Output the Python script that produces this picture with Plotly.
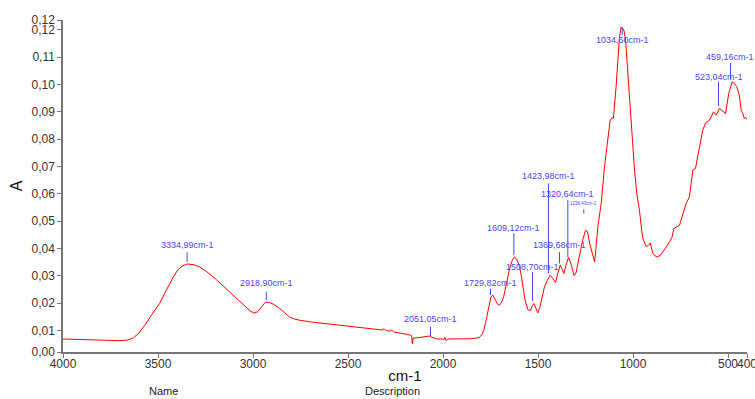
import plotly.graph_objects as go

# ---- spectrum data (wavenumber cm-1, absorbance A) ----
wavenumber = [4000, 3950, 3900, 3850, 3800, 3750, 3700, 3660, 3630, 3600, 3570, 3530, 3492, 3455, 3422,
              3395, 3370, 3345, 3310, 3280, 3250, 3200, 3150, 3100, 3050, 3015, 2995, 2975, 2955, 2935,
              2915, 2890, 2860, 2830, 2808, 2780, 2755, 2700, 2650, 2600, 2550, 2500, 2450, 2400, 2350,
              2320, 2310, 2300, 2280, 2270, 2260, 2230, 2200, 2175, 2165, 2161, 2157, 2140, 2110, 2085,
              2071, 2060, 2045, 2030, 2010, 1995, 1990, 1983, 1975, 1950, 1920, 1890, 1860, 1830, 1808,
              1795, 1785, 1773, 1760, 1748, 1738, 1725, 1712, 1703, 1692, 1680, 1665, 1650, 1635, 1624,
              1610, 1597, 1588, 1580, 1568, 1554, 1540, 1530, 1522, 1512, 1501, 1490, 1478, 1466, 1450,
              1436, 1422, 1408, 1395, 1383, 1372, 1364, 1350, 1339, 1325, 1310, 1300, 1285, 1265, 1250,
              1240, 1228, 1212, 1202, 1195, 1185, 1167, 1150, 1133, 1120, 1110, 1103, 1089, 1080, 1071,
              1062, 1048, 1039, 1028, 1018, 1005, 992, 980, 966, 955, 948, 930, 918, 909, 896,
              883, 870, 856, 843, 825, 808, 795, 785, 770, 755, 738, 720, 703, 690, 685,
              671, 660, 650, 633, 618, 597, 576, 562, 545, 531, 513, 496, 478, 466, 454,
              440, 431, 422, 414, 407, 400]
absorbance = [0.0068, 0.0067, 0.0066, 0.0064, 0.0062, 0.0061, 0.0062, 0.0064, 0.0072, 0.0090, 0.0118, 0.0160, 0.0198, 0.0248, 0.0292,
              0.0322, 0.0336, 0.0343, 0.0340, 0.0332, 0.0318, 0.0290, 0.0258, 0.0226, 0.0193, 0.0171, 0.0163, 0.0168, 0.0186, 0.0203,
              0.0202, 0.0195, 0.0180, 0.0160, 0.0149, 0.0141, 0.0137, 0.0131, 0.0127, 0.0123, 0.0119, 0.0116, 0.0113, 0.0108, 0.0103,
              0.0101, 0.0106, 0.0099, 0.0097, 0.0101, 0.0094, 0.0091, 0.0087, 0.0083, 0.0080, 0.0050, 0.0072, 0.0072, 0.0075, 0.0079,
              0.0079, 0.0075, 0.0070, 0.0068, 0.0069, 0.0066, 0.0074, 0.0062, 0.0068, 0.0068, 0.0067, 0.0067, 0.0069, 0.0071, 0.0074,
              0.0085, 0.0100, 0.0137, 0.0185, 0.0222, 0.0229, 0.0212, 0.0195, 0.0192, 0.0202, 0.0225, 0.0280, 0.0325, 0.0357, 0.0369,
              0.0358, 0.0332, 0.0300, 0.0259, 0.0210, 0.0176, 0.0172, 0.0190, 0.0198, 0.0182, 0.0164, 0.0185, 0.0225, 0.0259, 0.0285,
              0.0302, 0.0290, 0.0275, 0.0310, 0.0339, 0.0322, 0.0308, 0.0345, 0.0367, 0.0340, 0.0300, 0.0310, 0.0360, 0.0430, 0.0466,
              0.0462, 0.0418, 0.0370, 0.0351, 0.0400, 0.0479, 0.0567, 0.0699, 0.0797, 0.0870, 0.0878, 0.0876, 0.0992, 0.1080, 0.1175,
              0.1212, 0.1200, 0.1163, 0.1050, 0.0931, 0.0810, 0.0687, 0.0600, 0.0540, 0.0470, 0.0436, 0.0406, 0.0412, 0.0420, 0.0382,
              0.0372, 0.0369, 0.0375, 0.0387, 0.0405, 0.0424, 0.0440, 0.0473, 0.0480, 0.0485, 0.0525, 0.0565, 0.0589, 0.0660, 0.0687,
              0.0693, 0.0730, 0.0772, 0.0833, 0.0860, 0.0870, 0.0900, 0.0888, 0.0913, 0.0906, 0.0894, 0.0968, 0.1010, 0.1004, 0.0992,
              0.0961, 0.0906, 0.0894, 0.0876, 0.0880, 0.0872]

# ---- peak labels (text, marker wavenumber, marker bottom A, marker top A, text A) ----
peak_labels = ["3334,99cm-1", "2918,90cm-1", "2051,05cm-1", "1729,82cm-1", "1609,12cm-1", "1508,70cm-1",
               "1423,98cm-1", "1320,64cm-1", "1369,68cm-1", "1236,43cm-1", "1034,60cm-1", "523,04cm-1", "459,16cm-1"]
peak_wn = [3347, 2930, 2066, 1750, 1627, 1529, 1445, 1343, 1387, 1259, 1057, 550, 487]
peak_low = [0.0350, 0.0210, 0.0079, 0.0229, 0.0375, 0.0207, 0.0308, 0.0369, 0.0345, 0.0528, 0.1181, 0.0921, 0.1019]
peak_high = [0.0386, 0.0241, 0.0113, 0.0253, 0.0455, 0.0313, 0.0638, 0.0577, 0.0387, 0.0543, 0.1209, 0.1010, 0.1080]
peak_text_y = [0.0412, 0.0272, 0.0140, 0.0272, 0.0475, 0.0332, 0.0665, 0.0601, 0.0412, 0.0565, 0.1163, 0.1026, 0.1102]

# ---- axis ticks ----
x_tickvals = [4000, 3500, 3000, 2500, 2000, 1500, 1000, 500, 400]
x_ticktext = ["4000", "3500", "3000", "2500", "2000", "1500", "1000", "500", "400"]
y_min, y_max = 0.00205, 0.12366
y_tickvals = [y_min, 0.01, 0.02, 0.03, 0.04, 0.05, 0.06, 0.07, 0.08, 0.09, 0.10, 0.11, 0.12, y_max]

FONT = "Liberation Sans, Arial, sans-serif"
BLUE = "#4646ff"

fig = go.Figure()
fig.add_trace(go.Scatter(x=wavenumber, y=absorbance, mode="lines",
                         line=dict(color="#ff0000", width=1), hoverinfo="skip", showlegend=False))

for txt, wn, lo, hi, ty in zip(peak_labels, peak_wn, peak_low, peak_high, peak_text_y):
    fig.add_shape(type="line", x0=wn, x1=wn, y0=lo, y1=hi, xref="x", yref="y",
                  line=dict(color=BLUE, width=1))
    small = txt == "1236,43cm-1"
    fig.add_annotation(x=wn, y=ty, text=txt, showarrow=False, xanchor="center", yanchor="middle",
                       font=dict(family=FONT, size=4.5 if small else 9, color=BLUE))

fig.add_annotation(x=(163 - 63) / 684, y=(352 - 391) / 332, xref="paper", yref="paper",
                   xanchor="center", yanchor="middle",
                   text="Name", showarrow=False, font=dict(family=FONT, size=11, color="#222"))
fig.add_annotation(x=(392 - 63) / 684, y=(352 - 391) / 332, xref="paper", yref="paper",
                   xanchor="center", yanchor="middle",
                   text="Description", showarrow=False, font=dict(family=FONT, size=11, color="#222"))

fig.update_layout(
    width=755, height=399,
    margin=dict(l=63, r=8, t=20, b=47, pad=0),
    paper_bgcolor="white", plot_bgcolor="white",
    separators=",.",
    font=dict(family=FONT, size=12, color="#333"),
    xaxis=dict(range=[4000, 400], tickvals=x_tickvals, ticktext=x_ticktext,
               automargin=False, tickangle=0,
               showgrid=False, zeroline=False, showline=True, linecolor="#777", linewidth=1.5,
               ticks="outside", ticklen=4, tickcolor="#777", tickwidth=1,
               ticklabeloverflow="allow", ticklabelstandoff=-4,
               tickfont=dict(family=FONT, size=12, color="#333"),
               title=dict(text="cm-1", font=dict(family=FONT, size=15, color="#111"), standoff=0)),
    yaxis=dict(range=[y_min, y_max], tickvals=y_tickvals, tickformat=".2f",
               automargin=False,
               showgrid=False, zeroline=False, showline=True, linecolor="#777", linewidth=1.5,
               ticks="outside", ticklen=4, tickcolor="#777", tickwidth=1,
               tickfont=dict(family=FONT, size=12, color="#333"),
               title=dict(text="A", font=dict(family=FONT, size=16, color="#111"), standoff=5)),
)

fig.write_html("out.html", config={"displayModeBar": False},
               post_script="document.body.style.margin='0';document.body.style.overflow='hidden';")
